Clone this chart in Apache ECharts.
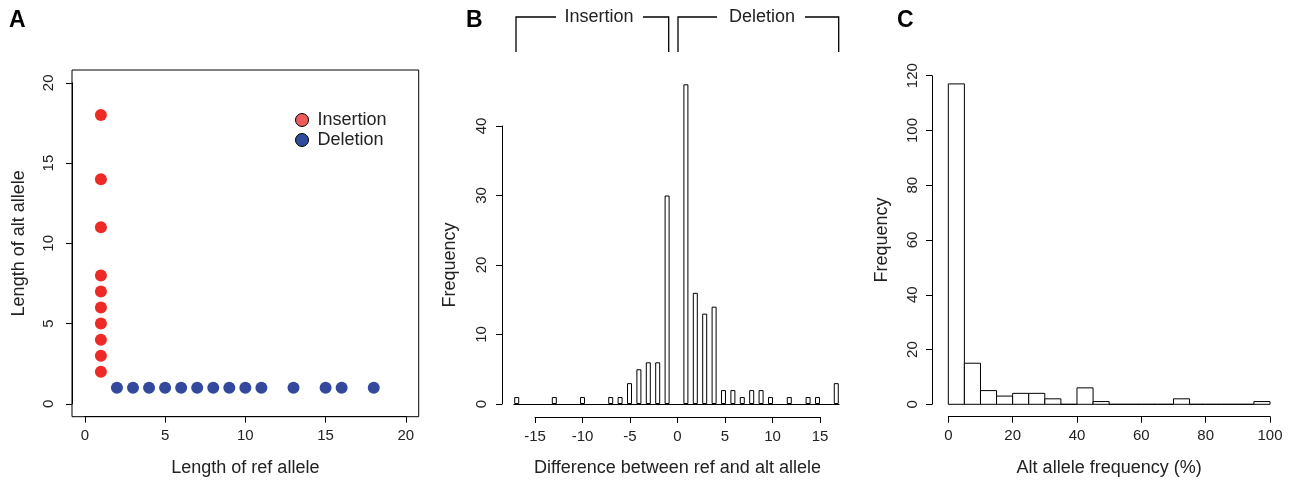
<!DOCTYPE html>
<html>
<head>
<meta charset="utf-8">
<script src="https://cdn.jsdelivr.net/npm/echarts@6/dist/echarts.min.js"></script>
<style>
  html, body { margin: 0; padding: 0; background: #fff; }
  #main { width: 1291px; height: 483px; }
</style>
</head>
<body>
<div id="main"></div>
<script>
// panel A: allele lengths
var insRef = [1, 1, 1, 1, 1, 1, 1, 1, 1, 1];
var insAlt = [2, 3, 4, 5, 6, 7, 8, 11, 14, 18];
var delRef = [2, 3, 4, 5, 6, 7, 8, 9, 10, 11, 13, 15, 16, 18];
var delAlt = [1, 1, 1, 1, 1, 1, 1, 1, 1, 1, 1, 1, 1, 1];

// panel B: difference between ref and alt allele
var diffVals = [-17, -13, -10, -7, -6, -5, -4, -3, -2, -1, 1, 2, 3, 4, 5, 6, 7, 8, 9, 10, 12, 14, 15, 17];
var diffFreq = [1, 1, 1, 1, 1, 3, 5, 6, 6, 30, 46, 16, 13, 14, 2, 2, 1, 2, 2, 1, 1, 1, 1, 3];

// panel C: alt allele frequency histogram (bins of 5%)
var afBinStart = [0, 5, 10, 15, 20, 25, 30, 35, 40, 45, 50, 55, 60, 65, 70, 75, 80, 85, 90, 95];
var afCounts = [117, 15, 5, 3, 4, 4, 2, 0, 6, 1, 0, 0, 0, 0, 2, 0, 0, 0, 0, 1];
var afBinWidth = 5;

var FONT = 'Liberation Sans, Arial, sans-serif';
var INK = '#222';

function pairs(xs, ys) {
  var out = [];
  for (var i = 0; i < xs.length; i++) out.push([xs[i], ys[i]]);
  return out;
}
var afData = afBinStart.map(function (s, i) { return [s, s + afBinWidth, afCounts[i]]; });

function rAxis(extra) {
  var ax = {
    type: 'value',
    axisLine: { show: true, onZero: false, lineStyle: { color: '#000', width: 1 } },
    axisTick: { show: true, length: 6, lineStyle: { color: '#000', width: 1 } },
    axisLabel: { color: INK, fontSize: 15, fontFamily: FONT },
    splitLine: { show: false },
    nameLocation: 'middle',
    nameMoveOverlap: false,
    nameTextStyle: { color: INK, fontSize: 18, fontFamily: FONT }
  };
  for (var k in extra) ax[k] = extra[k];
  return ax;
}
function hiddenAxis(extra) {
  var ax = { type: 'value', show: false, splitLine: { show: false } };
  for (var k in extra) ax[k] = extra[k];
  return ax;
}

var U = 346.7 / 21.6; // px per unit in panel A

var myChart = echarts.init(document.getElementById('main'));
var option = {
  animation: false,
  backgroundColor: '#fff',
  textStyle: { fontFamily: FONT },
  grid: [
    // 0: panel A data box
    { left: 72, top: 70, width: 346.7, height: 346.7, show: true, borderColor: '#000', borderWidth: 1, backgroundColor: 'transparent' },
    // 1: panel A axes (0..20)
    { left: 72 + 0.8 * U, top: 70 + 0.8 * U, width: 20 * U, height: 20 * U },
    // 2: panel B data
    { left: 513.9, top: 56.5, width: 325.2, height: 347.5 },
    // 3: panel B axes
    { left: 535, top: 126, width: 285, height: 278 },
    // 4: panel C
    { left: 948.3, top: 75.7, width: 321.7, height: 328.6 }
  ],
  xAxis: [
    hiddenAxis({ gridIndex: 0, min: -0.8, max: 20.8 }),
    rAxis({ gridIndex: 1, min: 0, max: 20, interval: 5, offset: 12.8,
      axisLabel: { color: INK, fontSize: 15, fontFamily: FONT, margin: 12 },
      name: 'Length of ref allele', nameGap: 42 }),
    hiddenAxis({ gridIndex: 2, min: -17.3, max: 17.3, show: true,
      axisLine: { show: true, lineStyle: { color: '#000', width: 1 } },
      axisTick: { show: false }, axisLabel: { show: false } }),
    rAxis({ gridIndex: 3, min: -15, max: 15, interval: 5, offset: 13,
      axisLabel: { color: INK, fontSize: 15, fontFamily: FONT, margin: 12 },
      name: 'Difference between ref and alt allele', nameGap: 42 }),
    rAxis({ gridIndex: 4, min: 0, max: 100, interval: 20, offset: 12.4,
      axisLabel: { color: INK, fontSize: 15, fontFamily: FONT, margin: 12 },
      name: 'Alt allele frequency (%)', nameGap: 42 })
  ],
  yAxis: [
    hiddenAxis({ gridIndex: 0, min: -0.8, max: 20.8 }),
    rAxis({ gridIndex: 1, min: 0, max: 20, interval: 5, offset: 12.8,
      axisLabel: { color: INK, fontSize: 15, fontFamily: FONT, rotate: 90, margin: 16 },
      name: 'Length of alt allele', nameGap: 44 }),
    hiddenAxis({ gridIndex: 2, min: 0, max: 50 }),
    rAxis({ gridIndex: 3, min: 0, max: 40, interval: 10, offset: 33,
      axisLabel: { color: INK, fontSize: 15, fontFamily: FONT, rotate: 90, margin: 13 },
      name: 'Frequency', nameGap: 43 }),
    rAxis({ gridIndex: 4, min: 0, max: 120, interval: 20, offset: 16.3,
      axisLabel: { color: INK, fontSize: 15, fontFamily: FONT, rotate: 90, margin: 12 },
      name: 'Frequency', nameGap: 41 })
  ],
  legend: {
    orient: 'vertical',
    left: 290,
    top: 106,
    itemWidth: 13,
    itemHeight: 13,
    itemGap: 2,
    icon: 'circle',
    textStyle: { color: INK, fontSize: 18, fontFamily: FONT, padding: [0, 0, 0, 4] },
    data: [
      { name: 'Insertion', itemStyle: { color: '#ef5b5b', borderColor: '#000', borderWidth: 1 } },
      { name: 'Deletion', itemStyle: { color: '#2f4b9e', borderColor: '#000', borderWidth: 1 } }
    ]
  },
  series: [
    {
      name: 'Insertion', type: 'scatter', xAxisIndex: 0, yAxisIndex: 0,
      symbol: 'circle', symbolSize: 12,
      itemStyle: { color: '#ee2a24', opacity: 1 },
      data: pairs(insRef, insAlt)
    },
    {
      name: 'Deletion', type: 'scatter', xAxisIndex: 0, yAxisIndex: 0,
      symbol: 'circle', symbolSize: 12,
      itemStyle: { color: '#34499d', opacity: 1 },
      data: pairs(delRef, delAlt)
    },
    {
      name: 'diff', type: 'bar', xAxisIndex: 2, yAxisIndex: 2,
      barWidth: 5,
      itemStyle: { color: '#fff', borderColor: '#000', borderWidth: 1 },
      data: pairs(diffVals, diffFreq)
    },
    {
      name: 'af', type: 'custom', xAxisIndex: 4, yAxisIndex: 4,
      encode: { x: [0, 1], y: 2 },
      renderItem: function (params, api) {
        var p0 = api.coord([api.value(0), api.value(2)]);
        var p1 = api.coord([api.value(1), 0]);
        return {
          type: 'rect',
          shape: { x: p0[0], y: p0[1], width: p1[0] - p0[0], height: p1[1] - p0[1] },
          style: { fill: '#fff', stroke: '#000', lineWidth: 1 }
        };
      },
      data: afData
    }
  ],
  graphic: [
    { type: 'text', left: 9, top: 9, style: { text: 'A', font: 'bold 23px ' + FONT, fill: '#000' } },
    { type: 'text', left: 466, top: 9, style: { text: 'B', font: 'bold 23px ' + FONT, fill: '#000' } },
    { type: 'text', left: 897, top: 9, style: { text: 'C', font: 'bold 23px ' + FONT, fill: '#000' } },
    { type: 'polyline', shape: { points: [[516, 52], [516, 17], [556, 17]] }, style: { stroke: '#000', lineWidth: 1.3, fill: null } },
    { type: 'polyline', shape: { points: [[643, 17], [668.7, 17], [668.7, 52]] }, style: { stroke: '#000', lineWidth: 1.3, fill: null } },
    { type: 'polyline', shape: { points: [[678, 52], [678, 17], [717, 17]] }, style: { stroke: '#000', lineWidth: 1.3, fill: null } },
    { type: 'polyline', shape: { points: [[805, 17], [838.7, 17], [838.7, 52]] }, style: { stroke: '#000', lineWidth: 1.3, fill: null } },
    { type: 'text', x: 599, y: 17, style: { text: 'Insertion', font: '18px ' + FONT, fill: INK, align: 'center', verticalAlign: 'middle' } },
    { type: 'text', x: 762, y: 17, style: { text: 'Deletion', font: '18px ' + FONT, fill: INK, align: 'center', verticalAlign: 'middle' } }
  ]
};
myChart.setOption(option);
</script>
</body>
</html>
